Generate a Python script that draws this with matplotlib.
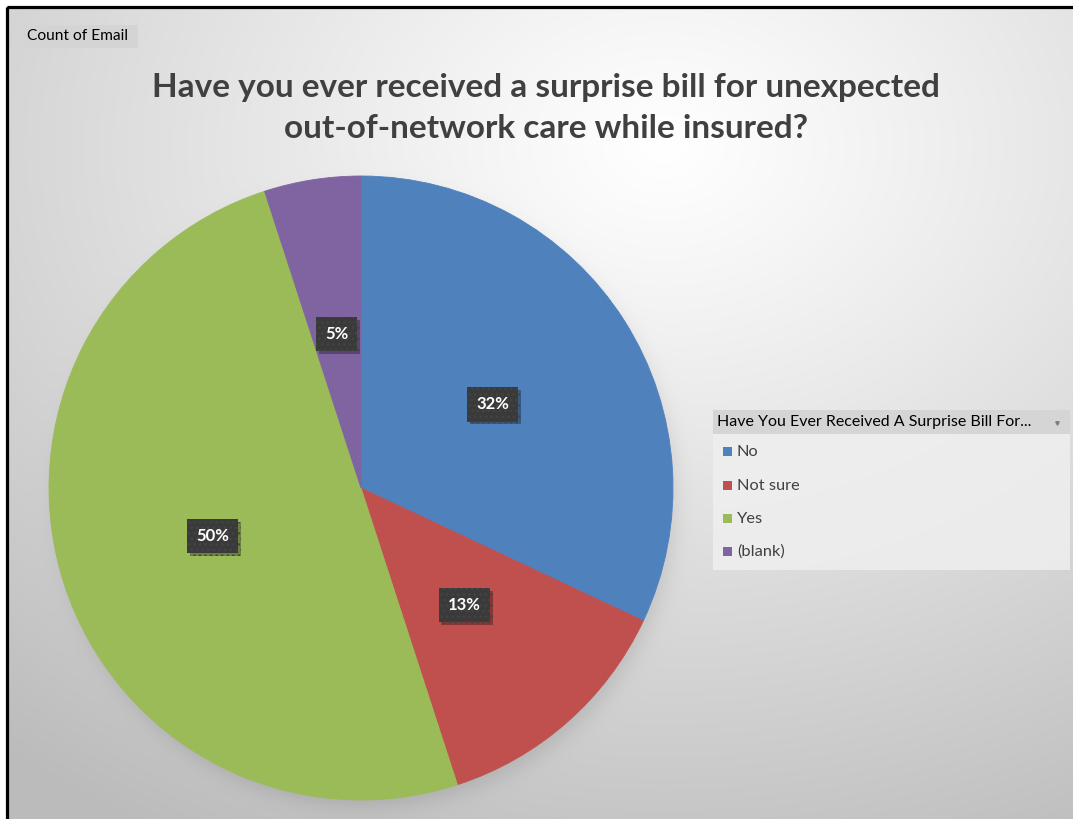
import numpy as np
import matplotlib
matplotlib.use("Agg")
import matplotlib.pyplot as plt
from matplotlib.patches import Rectangle
import matplotlib.patheffects as pe

# Survey responses (share of "Count of Email")
categories = ["No", "Not sure", "Yes", "(blank)"]
shares = [32, 13, 50, 5]
colors = ["#4F81BD", "#C0504D", "#9BBB59", "#8064A2"]
title_text = "Have you ever received a surprise bill for unexpected\nout-of-network care while insured?"
legend_title = "Have You Ever Received A Surprise Bill For..."
field_button = "Count of Email"

W, H = 1073, 819
FONT = "Lato"

fig = plt.figure(figsize=(W / 100, H / 100), dpi=100)
fig.patch.set_facecolor("white")

# Full-figure canvas in pixel coordinates
bg = fig.add_axes([0, 0, 1, 1])
bg.axis("off")

# Radial grey gradient plus a soft drop shadow under the pie
yy, xx = np.mgrid[0:H, 0:W].astype(float)
d = np.hypot(xx - 660, (yy - 140) * 1.3)
val = 255 - 58 * np.clip(d / 900, 0, 1.15) ** 1.1
cx, cy, r = 361, 488, 312
ds = np.hypot(xx - cx, yy - (cy + 6)) - r
shadow = 1 / (1 + np.exp(ds / 6.0))
val = val - 24 * shadow
img = np.clip(val, 0, 255) / 255.0
bg.imshow(np.dstack([img, img, img]), extent=(8, W, H, 8), zorder=0,
          interpolation="bilinear")
bg.set_xlim(0, W)
bg.set_ylim(H, 0)

# Chart frame (runs off the right and bottom edges)
bg.add_patch(Rectangle((7, 7), W + 20, H + 20, fill=False, edgecolor="black",
                       linewidth=2.3, zorder=5))

# Field button
bg.add_patch(Rectangle((24, 25), 114, 23, facecolor="#d4d4d4",
                       edgecolor="none", zorder=3))
bg.text(27, 36.5, field_button, fontsize=11.2, family=FONT, color="black",
        va="center", ha="left", zorder=4)

# Title
bg.text(546, 108.5, title_text, fontsize=24.0, family=FONT, fontweight="bold",
        color="#404040", ha="center", va="center", linespacing=1.5, zorder=4)

# Pie
ax = fig.add_axes([(cx - r) / W, (H - cy - r) / H, 2 * r / W, 2 * r / H])
wedges, texts, autotexts = ax.pie(
    shares, colors=colors, startangle=90, counterclock=False,
    autopct="%.0f%%", pctdistance=0.5, radius=1,
    wedgeprops=dict(linewidth=0.6, antialiased=True),
    textprops=dict(color="white", fontsize=12, fontweight="bold", family=FONT),
)
for w, c in zip(wedges, colors):
    w.set_edgecolor(c)
ax.set_xlim(-1, 1)
ax.set_ylim(-1, 1)
ax.set_aspect("equal")
ax.axis("off")
for t in autotexts:
    t.set_bbox(dict(boxstyle="square,pad=0.55", facecolor="#3a3a3a",
                    edgecolor="#444444", linewidth=0, hatch="..."))
    t.get_bbox_patch().set_path_effects([
        pe.SimplePatchShadow(offset=(2, -2), shadow_rgbFace="black", alpha=0.3),
        pe.Normal()])

# Legend panel
lx0, lx1 = 713, 1070
bg.add_patch(Rectangle((lx0, 434), lx1 - lx0, 136, facecolor="#efefef",
                       edgecolor="none", alpha=0.85, zorder=3))
bg.add_patch(Rectangle((lx0, 410), lx1 - lx0, 24, facecolor="#d5d5d5",
                       edgecolor="none", zorder=3))
bg.text(717, 422, legend_title, fontsize=11.5, family=FONT, color="black",
        ha="left", va="center", zorder=4)
bg.plot([1057], [423], marker="v", markersize=2.5, color="#7f7f7f", zorder=4)
row_y = [452, 486, 519, 552]
for name, col, y in zip(categories, colors, row_y):
    bg.add_patch(Rectangle((723, y - 5), 9, 9, facecolor=col, edgecolor="none",
                           zorder=4))
    bg.text(737, y, name, fontsize=11.8, family=FONT, color="#404040",
            ha="left", va="center", zorder=4)

fig.savefig("out.png", dpi=100)
